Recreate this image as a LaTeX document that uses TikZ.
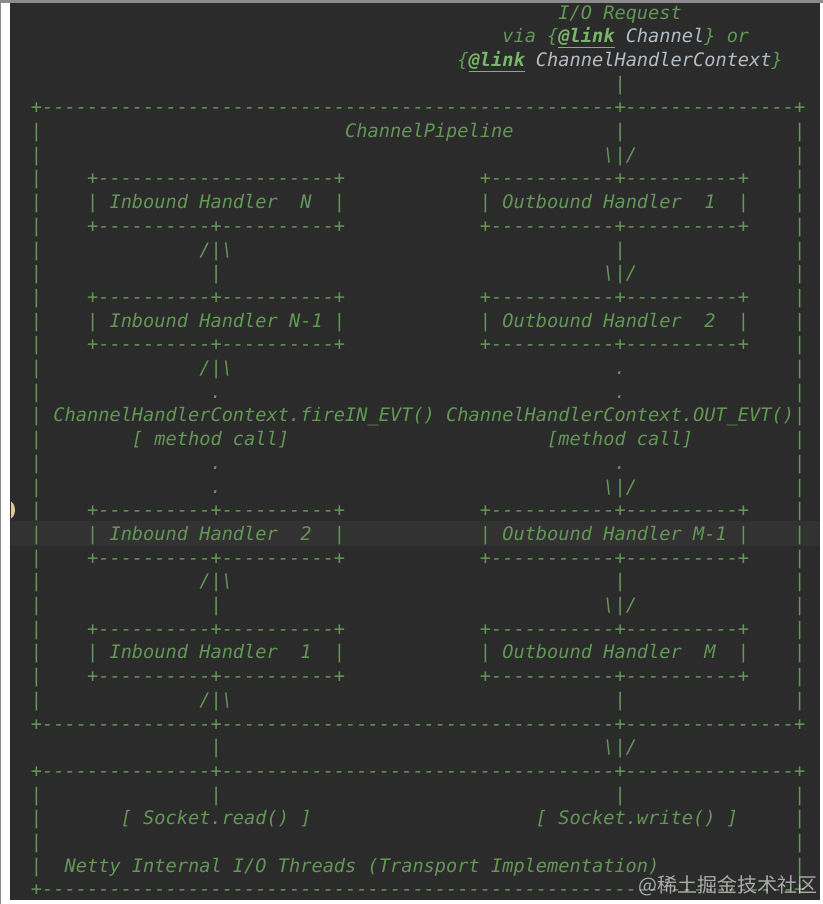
\documentclass[tikz,border=0pt]{standalone}
\usepackage{fontspec}
\newfontfamily\codefont{DejaVu Sans Mono}
\newfontfamily\cjk{Noto Sans CJK SC}

\definecolor{editorbg}{HTML}{2B2B2B}
\definecolor{linebg}{HTML}{323232}
\definecolor{framegray}{HTML}{8C8C8C}
\definecolor{doccomment}{HTML}{629755}
\definecolor{doctag}{HTML}{77B767}
\definecolor{doclink}{HTML}{B4BCC4}
\definecolor{gutterdot}{HTML}{D9C995}

% repeat a character n times (keeps the columns of the ascii picture)
\newcount\repcnt
\newcommand\rep[2]{\repcnt=#1\relax\loop\ifnum\repcnt>0 #2\advance\repcnt by -1\repeat}
\newcommand\blanks[1]{\rep{#1}{\ }}
\newcommand\dashes[1]{\rep{#1}{-}}
\newcommand\boxedge{|\blanks{4}+\dashes{10}+\dashes{10}+\blanks{12}+\dashes{11}+\dashes{10}+\blanks{4}|}
\newcommand\boxlabel[2]{|\blanks{4}|#1|\blanks{12}|#2|\blanks{4}|}
\newcommand\linktag{\textcolor{doctag}{\underline{\textbf{@link}}}}

\tikzset{every picture/.style={line width=0.75pt}}
\tikzset{codeline/.style={anchor=base west,inner sep=0pt,outer sep=0pt,text=doccomment,font=\codefont\itshape\fontsize{13.98pt}{17pt}\selectfont}}

\begin{document}
\begin{tikzpicture}[x=0.75pt,y=0.75pt,yscale=-1,xscale=1]
\useasboundingbox (0,0) rectangle (823,904);

%Shape: Rectangle [screen]
\fill [white] (0,0) rectangle (823,904);
\fill [framegray] (0,0) rectangle (823,3);
\fill [framegray] (0,0) rectangle (1,904);
%Shape: Rectangle [editor]
\fill [editorbg] (10,3) rectangle (820,900);
%Shape: Rectangle [current line]
\fill [linebg] (11,521) rectangle (820,546);
%Shape: Circle [gutter icon]
\begin{scope}
\clip (11,495) rectangle (22,525);
\fill [gutterdot] (9,510) ellipse (6 and 9);
\end{scope}

% Text Node
\node (ln0) [codeline] at (31,19) {\blanks{47}I/O Request};
% Text Node
\node (ln1) [codeline] at (31,42.7) {\blanks{42}via \{\linktag\ \textcolor{doclink}{Channel}\} or};
% Text Node
\node (ln2) [codeline] at (31,66.4) {\blanks{38}\{\linktag\ \textcolor{doclink}{ChannelHandlerContext}\}};
% Text Node
\node (ln3) [codeline] at (31,90.1) {\blanks{52}|};
% Text Node
\node (ln4) [codeline] at (31,113.8) {+\dashes{51}+\dashes{15}+};
% Text Node
\node (ln5) [codeline] at (31,137.5) {|\blanks{27}ChannelPipeline\blanks{9}|\blanks{15}|};
% Text Node
\node (ln6) [codeline] at (31,161.2) {|\blanks{50}\textbackslash|/\blanks{14}|};
% Text Node
\node (ln7) [codeline] at (31,184.9) {|\blanks{4}+\dashes{21}+\blanks{12}+\dashes{11}+\dashes{10}+\blanks{4}|};
% Text Node
\node (ln8) [codeline] at (31,208.6) {\boxlabel{\ Inbound Handler\blanks{2}N\blanks{2}}{\ Outbound Handler\blanks{2}1\blanks{2}}};
% Text Node
\node (ln9) [codeline] at (31,232.3) {\boxedge};
% Text Node
\node (ln10) [codeline] at (31,256) {|\blanks{14}/|\textbackslash\blanks{34}|\blanks{15}|};
% Text Node
\node (ln11) [codeline] at (31,279.7) {|\blanks{15}|\blanks{34}\textbackslash|/\blanks{14}|};
% Text Node
\node (ln12) [codeline] at (31,303.4) {\boxedge};
% Text Node
\node (ln13) [codeline] at (31,327.1) {\boxlabel{\ Inbound Handler N-1\ }{\ Outbound Handler\blanks{2}2\blanks{2}}};
% Text Node
\node (ln14) [codeline] at (31,350.8) {\boxedge};
% Text Node
\node (ln15) [codeline] at (31,374.5) {|\blanks{14}/|\textbackslash\blanks{34}.\blanks{15}|};
% Text Node
\node (ln16) [codeline] at (31,398.2) {|\blanks{15}.\blanks{35}.\blanks{15}|};
% Text Node
\node (ln17) [codeline] at (31,421.9) {|\ ChannelHandlerContext.fireIN\_EVT()\ ChannelHandlerContext.OUT\_EVT()|};
% Text Node
\node (ln18) [codeline] at (31,445.6) {|\blanks{8}[ method call]\blanks{23}[method call]\blanks{9}|};
% Text Node
\node (ln19) [codeline] at (31,469.3) {|\blanks{15}.\blanks{35}.\blanks{15}|};
% Text Node
\node (ln20) [codeline] at (31,493) {|\blanks{15}.\blanks{34}\textbackslash|/\blanks{14}|};
% Text Node
\node (ln21) [codeline] at (31,516.7) {\boxedge};
% Text Node
\node (ln22) [codeline] at (31,540.4) {\boxlabel{\ Inbound Handler\blanks{2}2\blanks{2}}{\ Outbound Handler M-1\ }};
% Text Node
\node (ln23) [codeline] at (31,564.1) {\boxedge};
% Text Node
\node (ln24) [codeline] at (31,587.8) {|\blanks{14}/|\textbackslash\blanks{34}|\blanks{15}|};
% Text Node
\node (ln25) [codeline] at (31,611.5) {|\blanks{15}|\blanks{34}\textbackslash|/\blanks{14}|};
% Text Node
\node (ln26) [codeline] at (31,635.2) {\boxedge};
% Text Node
\node (ln27) [codeline] at (31,658.9) {\boxlabel{\ Inbound Handler\blanks{2}1\blanks{2}}{\ Outbound Handler\blanks{2}M\blanks{2}}};
% Text Node
\node (ln28) [codeline] at (31,682.6) {\boxedge};
% Text Node
\node (ln29) [codeline] at (31,706.3) {|\blanks{14}/|\textbackslash\blanks{34}|\blanks{15}|};
% Text Node
\node (ln30) [codeline] at (31,730) {+\dashes{15}+\dashes{35}+\dashes{15}+};
% Text Node
\node (ln31) [codeline] at (31,753.7) {\blanks{16}|\blanks{34}\textbackslash|/};
% Text Node
\node (ln32) [codeline] at (31,777.4) {+\dashes{15}+\dashes{35}+\dashes{15}+};
% Text Node
\node (ln33) [codeline] at (31,801.1) {|\blanks{15}|\blanks{35}|\blanks{15}|};
% Text Node
\node (ln34) [codeline] at (31,824.8) {|\blanks{7}[ Socket.read() ]\blanks{20}[ Socket.write() ]\blanks{5}|};
% Text Node
\node (ln35) [codeline] at (31,848.5) {|\blanks{67}|};
% Text Node
\node (ln36) [codeline] at (31,872.2) {|\blanks{2}Netty Internal I/O Threads (Transport Implementation)\blanks{12}|};
% Text Node
\node (ln37) [codeline] at (31,895.9) {+\dashes{67}+};

% Text Node
\node (mark) [anchor=east,inner sep=0pt,text=white,text opacity=0.6,font=\cjk\fontsize{15pt}{15pt}\selectfont] at (818,886) {@稀土掘金技术社区};

\end{tikzpicture}
\end{document}
